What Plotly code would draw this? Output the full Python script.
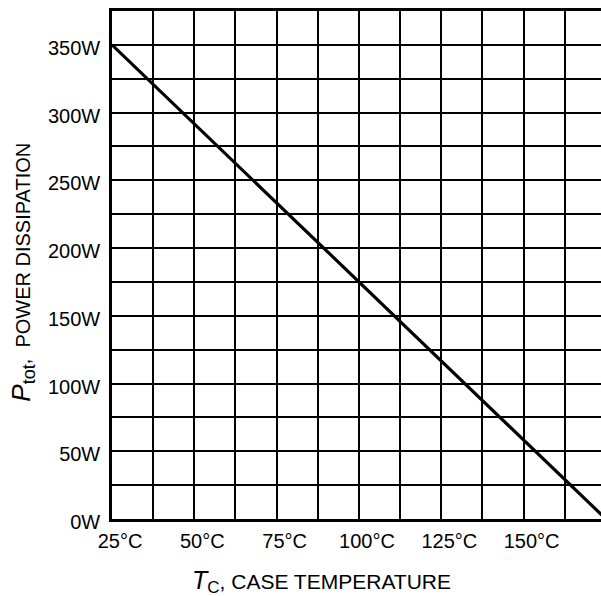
import plotly.graph_objects as go

# Power derating curve: total dissipation vs. case temperature
case_temp_c = [25, 175]
power_w = [350, 0]

x_tick_vals = [25, 50, 75, 100, 125, 150]
x_tick_text = ["25°C", "50°C", "75°C", "100°C", "125°C", "150°C"]
y_tick_vals = [0, 50, 100, 150, 200, 250, 300, 350]
y_tick_text = ["0W", "50W", "100W", "150W", "200W", "250W", "300W", "350W"]

FONT = "Liberation Sans, Arial, sans-serif"
INK = "#000000"

fig = go.Figure()
fig.add_trace(go.Scatter(
    x=case_temp_c, y=power_w, mode="lines",
    line=dict(color=INK, width=3.2),
    hoverinfo="skip", showlegend=False,
))

grid_style = dict(gridcolor=INK, gridwidth=2)

fig.update_xaxes(
    range=[25, 173.5],
    tickmode="array", tickvals=x_tick_vals, ticktext=x_tick_text,
    showgrid=True, **grid_style,
    minor=dict(dtick=12.5, tick0=25, showgrid=True, gridcolor=INK, gridwidth=2),
    showline=True, linecolor=INK, linewidth=2.5, mirror=True,
    ticks="", zeroline=False,
    tickfont=dict(family=FONT, size=20, color=INK),
    ticklabelshift=8, ticklabelstandoff=2,
)
fig.update_yaxes(
    range=[0, 375],
    tickmode="array", tickvals=y_tick_vals, ticktext=y_tick_text,
    showgrid=True, **grid_style,
    minor=dict(dtick=25, tick0=0, showgrid=True, gridcolor=INK, gridwidth=2),
    showline=True, linecolor=INK, linewidth=2.5, mirror=False,
    ticks="", zeroline=False,
    tickfont=dict(family=FONT, size=20, color=INK),
    ticklabelshift=3, ticklabelstandoff=5,
)

fig.add_annotation(
    xref="paper", yref="paper", x=0.4284, y=-0.123,
    xanchor="center", yanchor="middle", showarrow=False,
    text="<i><span style='font-size:25px'>T</span></i><sub><span style='font-size:17px'>C</span></sub>, CASE TEMPERATURE",
    font=dict(family=FONT, size=21, color=INK),
)
fig.add_annotation(
    xref="paper", yref="paper", x=-0.184, y=0.485,
    xanchor="center", yanchor="middle", showarrow=False, textangle=-90,
    text="<i><span style='font-size:26px'>P</span></i><sub><span style='font-size:18px'>tot</span></sub>,  POWER DISSIPATION",
    font=dict(family=FONT, size=20, color=INK),
)

fig.update_layout(
    width=601, height=596,
    margin=dict(l=112, r=0, t=11, b=77),
    paper_bgcolor="white", plot_bgcolor="white",
)

fig.write_html("out.html")
